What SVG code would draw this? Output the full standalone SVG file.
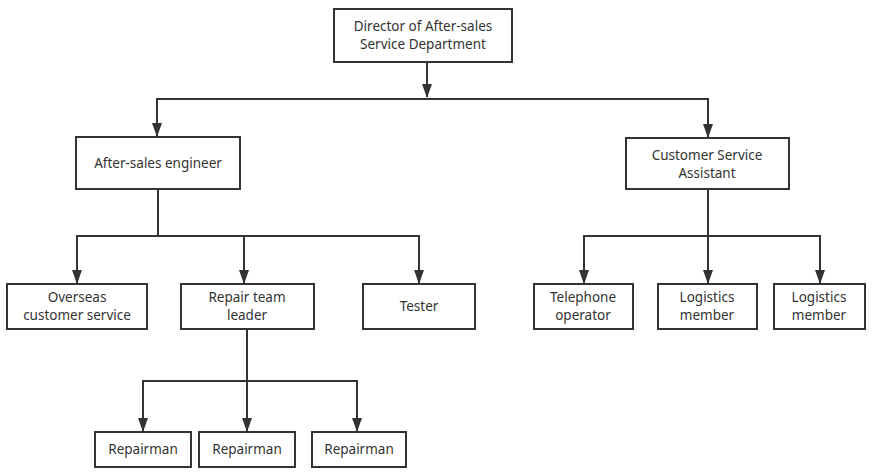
<svg xmlns="http://www.w3.org/2000/svg" width="877" height="476" viewBox="0 0 877 476">
<style>
.box{fill:#fff;stroke:#333;stroke-width:2}
.t{font-family:"Noto Sans","Open Sans",sans-serif;font-size:13.5px;fill:#333;text-anchor:middle}
.c{fill:none;stroke:#333;stroke-width:2}
</style>
<defs>
<marker id="a" markerUnits="userSpaceOnUse" markerWidth="14" markerHeight="10" refX="13" refY="5" orient="auto" viewBox="0 0 14 10">
<path d="M0,0 L14,5 L0,10 Z" fill="#333"/>
</marker>
</defs>
<g id="connectors">
<path class="c" d="M427,62 V97" marker-end="url(#a)"/>
<path class="c" d="M157,99 H708"/>
<path class="c" d="M157,98 V136" marker-end="url(#a)"/>
<path class="c" d="M708,98 V137" marker-end="url(#a)"/>
<path class="c" d="M158,189 V236"/>
<path class="c" d="M77,236 H420"/>
<path class="c" d="M77,235 V283" marker-end="url(#a)"/>
<path class="c" d="M244,236 V283" marker-end="url(#a)"/>
<path class="c" d="M419,235 V283" marker-end="url(#a)"/>
<path class="c" d="M708,189 V283" marker-end="url(#a)"/>
<path class="c" d="M584,236 H820"/>
<path class="c" d="M584,235 V283" marker-end="url(#a)"/>
<path class="c" d="M820,235 V283" marker-end="url(#a)"/>
<path class="c" d="M247,329 V431" marker-end="url(#a)"/>
<path class="c" d="M143,381 H357"/>
<path class="c" d="M143,380 V431" marker-end="url(#a)"/>
<path class="c" d="M357,380 V431" marker-end="url(#a)"/>
</g>
<g id="director"><rect class="box" x="334" y="9" width="178" height="53"/><text class="t" x="423" y="31">Director of After-sales</text><text class="t" x="423" y="49">Service Department</text></g>
<g id="engineer"><rect class="box" x="76" y="137" width="164" height="52"/><text class="t" x="158" y="168">After-sales engineer</text></g>
<g id="csa"><rect class="box" x="626" y="138" width="163" height="51"/><text class="t" x="707" y="160">Customer Service</text><text class="t" x="707" y="178">Assistant</text></g>
<g id="overseas"><rect class="box" x="7" y="284" width="140" height="45"/><text class="t" x="77" y="302">Overseas</text><text class="t" x="77" y="320">customer service</text></g>
<g id="leader"><rect class="box" x="181" y="284" width="133" height="45"/><text class="t" x="247" y="302">Repair team</text><text class="t" x="247" y="320">leader</text></g>
<g id="tester"><rect class="box" x="363" y="284" width="112" height="45"/><text class="t" x="419" y="311">Tester</text></g>
<g id="telephone"><rect class="box" x="534" y="284" width="99" height="45"/><text class="t" x="583" y="302">Telephone</text><text class="t" x="583" y="320">operator</text></g>
<g id="logistics1"><rect class="box" x="658" y="284" width="99" height="45"/><text class="t" x="707" y="302">Logistics</text><text class="t" x="707" y="320">member</text></g>
<g id="logistics2"><rect class="box" x="774" y="284" width="91" height="45"/><text class="t" x="819" y="302">Logistics</text><text class="t" x="819" y="320">member</text></g>
<g id="repairman1"><rect class="box" x="95" y="432" width="96" height="35"/><text class="t" x="143" y="454">Repairman</text></g>
<g id="repairman2"><rect class="box" x="199" y="432" width="96" height="35"/><text class="t" x="247" y="454">Repairman</text></g>
<g id="repairman3"><rect class="box" x="312" y="432" width="94" height="35"/><text class="t" x="359" y="454">Repairman</text></g>
</svg>
